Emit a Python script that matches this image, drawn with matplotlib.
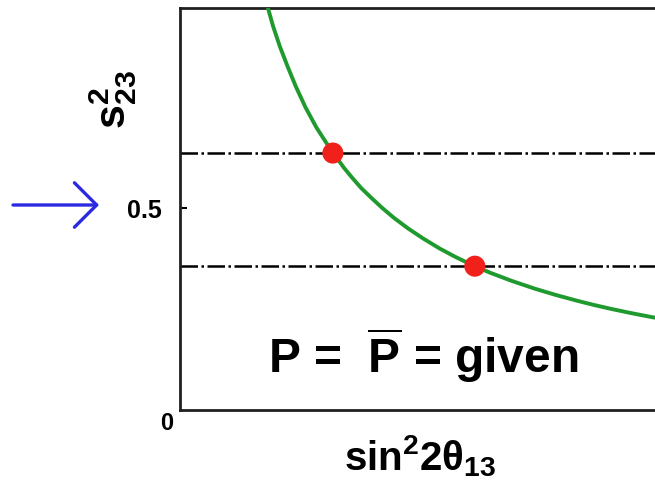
"""
Constant-probability curve in the (sin^2 2theta13, s23^2) plane,
with the two octant-degenerate solutions marked on it.
"""
import matplotlib
matplotlib.use('Agg')
import matplotlib.pyplot as plt

plt.rcParams['font.family'] = 'Liberation Sans'
plt.rcParams['mathtext.fontset'] = 'custom'
plt.rcParams['mathtext.rm'] = 'Liberation Sans:bold'
plt.rcParams['mathtext.bf'] = 'Liberation Sans:bold'
plt.rcParams['mathtext.it'] = 'Liberation Sans:bold'

# curve P = Pbar = given, read along its length
curve_x = [0.168, 0.179, 0.192, 0.207, 0.223, 0.241, 0.262, 0.287, 0.315,
           0.331, 0.348, 0.368, 0.389, 0.412, 0.438, 0.467, 0.499, 0.528,
           0.560, 0.596, 0.637, 0.683, 0.722, 0.765, 0.796, 0.830, 0.867,
           0.907, 0.951]
curve_y = [1.000, 0.950, 0.900, 0.850, 0.800, 0.750, 0.700, 0.650, 0.600,
           0.575, 0.550, 0.525, 0.500, 0.475, 0.450, 0.425, 0.400, 0.380,
           0.360, 0.340, 0.320, 0.300, 0.285, 0.270, 0.260, 0.250, 0.240,
           0.230, 0.220]

# the two s23^2 values giving the same probability
level_y = [0.636, 0.356]
cross_x = [0.294, 0.567]

ytick_vals = [0.5]
ytick_labels = ['0.5']

fig = plt.figure(figsize=(6.55, 4.80), dpi=100)
ax = fig.add_axes([180 / 655, 70 / 480, 520 / 655, 402 / 480])
ax.set_xlim(0, 1)
ax.set_ylim(0, 402 / 404)

ax.plot(curve_x, curve_y, color='#1f9a2e', lw=2.8, solid_joinstyle='round',
        zorder=3)
for yv in level_y:
    ax.axhline(yv, color='black', lw=1.8, dashes=(7, 1.4, 1.0, 1.4), zorder=2)
ax.scatter(cross_x, level_y, s=230, color='#f0201a', edgecolors='none', zorder=4)

ax.text(0.467, 0.092, r'P =  $\overline{\mathrm{P}}$ = given',
        fontsize=34.5, fontweight='bold', ha='center', va='baseline')

for side in ['left', 'top', 'bottom']:
    ax.spines[side].set_linewidth(2.0)
    ax.spines[side].set_color('#202020')
ax.spines['right'].set_visible(False)

ax.set_xticks([])
ax.set_yticks(ytick_vals)
ax.set_yticklabels(ytick_labels, fontsize=18, fontweight='bold')
ax.tick_params(axis='y', direction='in', length=5, width=1.5, pad=13)

fig.text(167 / 655, 1 - 423 / 480, '0', fontsize=17, fontweight='bold',
         ha='center', va='center')
fig.text(420 / 655, 1 - 456 / 480, r'sin$^{2}$2$\theta_{13}$',
         fontsize=29, fontweight='bold', ha='center', va='center')
fig.text(113 / 655, 1 - 100 / 480, r'$\mathbf{s^{2}_{23}}$',
         fontsize=31, ha='center', va='center', rotation=90)

ax.annotate('', xy=(99 / 655, 1 - 205 / 480), xytext=(13 / 655, 1 - 205 / 480),
            xycoords='figure fraction', textcoords='figure fraction',
            arrowprops=dict(arrowstyle='->, head_length=0.8, head_width=0.8',
                            mutation_scale=20, color='#2a2ae0', lw=2.4,
                            shrinkA=0, shrinkB=0))

fig.savefig('out.png', dpi=100)
